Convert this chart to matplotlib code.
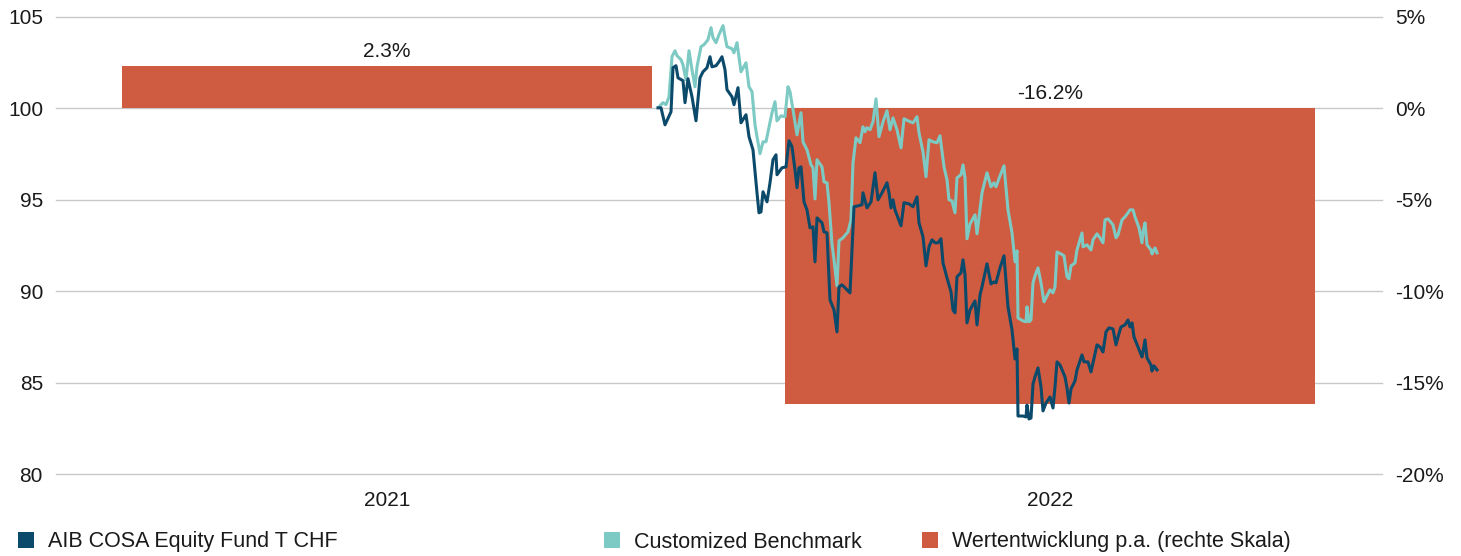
import matplotlib
matplotlib.use("Agg")
import matplotlib.pyplot as plt
from matplotlib.ticker import FuncFormatter, FixedLocator
from matplotlib.patches import Patch

plt.rcParams['font.family'] = ['Liberation Sans', 'DejaVu Sans']

# ---- data ----
years = ["2021", "2022"]
annual_perf = [2.3, -16.2]          # % p.a. (right scale)

# time positions (relative trading-time units) and index values
fund_t = [0, 3, 7, 13, 15, 18, 20, 25, 27, 30, 34, 38, 42, 45, 49, 52, 54, 58, 61, 64,
          67, 69, 74, 76, 80, 83, 88, 91, 95, 99, 101, 103, 105, 109, 112, 115, 118, 119, 124, 128,
          131, 134, 137, 139, 141, 143, 146, 149, 152, 155, 157, 159, 164, 166, 169, 172, 176, 179, 181, 184,
          187, 192, 196, 200, 204, 205, 209, 213, 217, 220, 224, 229, 231, 233, 235, 237, 243, 246, 251, 255,
          259, 261, 265, 268, 271, 274, 277, 280, 283, 285, 289, 293, 295, 297, 299, 303, 305, 307, 309, 312,
          317, 319, 322, 324, 329, 333, 336, 338, 342, 346, 350, 354, 357, 359, 360, 365, 368, 369, 371, 373,
          375, 377, 380, 383, 385, 388, 392, 395, 397, 399, 402, 407, 409, 411, 413, 417, 419, 424, 426, 430,
          433, 435, 439, 442, 445, 448, 451, 455, 458, 460, 463, 467, 470, 472, 474, 476, 480, 484, 485, 487,
          489, 493, 494, 496, 499]
fund = [100.02, 100.02, 99.09, 99.80, 102.21, 102.32, 101.66, 101.50, 100.30, 101.61,
        100.62, 99.31, 101.66, 101.99, 102.21, 102.81, 102.26, 102.32, 102.54, 102.81,
        102.10, 101.01, 100.62, 100.19, 101.12, 99.20, 99.64, 98.44, 97.72, 95.37,
        94.28, 94.33, 95.43, 94.88, 95.92, 97.18, 97.45, 96.36, 96.74, 96.79,
        98.22, 97.89, 96.63, 95.65, 96.74, 96.79, 94.88, 94.44, 93.46, 93.51,
        91.60, 94.00, 93.73, 93.24, 93.18, 89.52, 88.97, 87.77, 90.23, 90.34,
        90.18, 89.90, 94.61, 94.66, 94.72, 95.37, 94.55, 94.88, 96.47, 94.99,
        95.37, 95.92, 95.37, 94.55, 94.99, 94.44, 93.57, 94.83, 94.77, 94.61,
        95.15, 93.73, 92.97, 91.38, 92.42, 92.80, 92.64, 92.64, 92.86, 91.54,
        90.72, 89.96, 88.97, 88.81, 90.78, 91.00, 91.71, 90.89, 88.26, 88.97,
        89.46, 88.15, 89.79, 90.23, 91.49, 90.39, 90.50, 90.45, 91.27, 91.93,
        89.14, 87.88, 86.29, 86.84, 83.17, 83.17, 83.12, 83.77, 83.01, 83.06,
        84.92, 85.31, 85.80, 84.76, 83.45, 83.88, 84.21, 83.61, 84.76, 86.13,
        85.96, 85.31, 84.70, 83.88, 84.65, 85.09, 85.69, 86.51, 86.13, 86.13,
        85.58, 86.07, 87.06, 86.95, 86.67, 87.77, 87.99, 87.93, 87.06, 87.49,
        88.04, 88.15, 88.42, 88.04, 88.26, 87.49, 86.95, 86.40, 86.67, 87.33,
        86.35, 85.96, 85.63, 85.91, 85.69]

bench_t = [2, 5, 8, 11, 14, 17, 19, 23, 25, 28, 31, 34, 37, 39, 43, 46, 50, 53, 55, 58,
           61, 65, 67, 69, 74, 76, 79, 83, 88, 91, 94, 97, 99, 102, 105, 108, 114, 117, 119, 123,
           127, 130, 132, 135, 139, 143, 145, 149, 153, 155, 157, 159, 164, 166, 169, 171, 174, 176, 179, 181,
           185, 190, 193, 195, 198, 202, 205, 207, 209, 212, 215, 218, 221, 225, 229, 232, 235, 239, 243, 246,
           252, 255, 259, 261, 265, 268, 271, 275, 279, 282, 286, 289, 291, 294, 297, 299, 303, 305, 307, 309,
           312, 317, 319, 324, 329, 333, 336, 338, 342, 346, 350, 354, 357, 359, 360, 365, 368, 369, 371, 373,
           375, 377, 380, 383, 386, 389, 392, 395, 397, 399, 403, 406, 409, 411, 413, 417, 419, 424, 425, 429,
           433, 435, 439, 442, 445, 447, 450, 455, 458, 460, 464, 467, 470, 472, 475, 477, 481, 484, 485, 487,
           489, 493, 494, 497, 499]
bench = [100.13, 100.30, 100.19, 100.62, 102.81, 103.14, 102.87, 102.65, 102.37, 101.55,
         103.14, 102.10, 101.17, 102.26, 103.36, 103.47, 103.74, 104.40, 103.85, 103.58,
         104.02, 104.51, 103.91, 103.36, 103.25, 103.03, 103.58, 101.99, 102.48, 101.17,
         100.90, 99.09, 98.44, 97.51, 98.16, 98.16, 99.75, 100.35, 99.31, 99.58,
         99.53, 101.17, 100.90, 99.91, 98.54, 99.75, 98.16, 97.72, 96.90, 96.74,
         95.04, 97.18, 96.79, 95.97, 95.92, 94.83, 92.58, 91.71, 90.28, 92.75,
         92.91, 93.24, 93.89, 97.01, 98.38, 98.11, 98.98, 98.71, 98.93, 98.82,
         99.26, 100.51, 98.44, 99.26, 99.86, 98.82, 99.47, 98.82, 97.83, 99.42,
         99.26, 99.20, 99.53, 98.65, 97.61, 96.25, 98.27, 98.16, 98.11, 98.49,
         96.79, 96.08, 94.99, 94.93, 94.28, 96.19, 96.36, 96.90, 96.19, 92.86,
         93.67, 94.17, 93.13, 95.37, 96.47, 95.70, 95.92, 95.70, 96.30, 96.85,
         94.44, 93.18, 91.60, 92.20, 88.53, 88.37, 88.32, 89.14, 88.32, 88.42,
         90.45, 90.83, 91.27, 90.45, 89.41, 89.74, 90.07, 89.90, 90.23, 92.14,
         92.03, 91.93, 90.78, 90.67, 91.38, 91.54, 92.25, 93.18, 92.42, 92.53,
         92.25, 92.80, 93.13, 92.91, 92.64, 93.89, 93.95, 93.62, 92.91, 93.07,
         93.89, 94.06, 94.28, 94.44, 94.44, 94.06, 93.46, 92.64, 93.24, 93.73,
         92.53, 92.25, 92.03, 92.36, 92.09]

left_ticks = [80, 85, 90, 95, 100, 105]
right_ticks = [-20, -15, -10, -5, 0, 5]

series_names = ["AIB COSA Equity Fund T CHF", "Customized Benchmark",
                "Wertentwicklung p.a. (rechte Skala)"]
c_fund = "#0b4a6b"
c_bench = "#7ccac3"
c_bar = "#cf5b40"
c_grid = "#c8c8c8"
c_text = "#1a1a1a"

# ---- figure ----
W, H = 1461, 556
fig = plt.figure(figsize=(W / 100, H / 100), dpi=100)
L, R, T, B = 55.5, 1381.5, 16.7, 474
ax = fig.add_axes([L / W, 1 - B / H, (R - L) / W, (B - T) / H])

ax.set_ylim(80, 105)
ax.set_xlim(-0.5, 1.5)
ax.yaxis.set_major_locator(FixedLocator(left_ticks))
ax.grid(axis='y', color=c_grid, linewidth=1.0)
for gl in ax.get_ygridlines():
    gl.set_clip_on(False)
ax.set_axisbelow(True)
for s in ax.spines.values():
    s.set_visible(False)
ax.set_xticks(range(len(years)))
ax.set_xticklabels(years)
ax.tick_params(axis='both', length=0, labelsize=15, colors=c_text)
ax.tick_params(axis='y', pad=9)
ax.tick_params(axis='x', pad=12)

# right axis: annual performance bars
axr = ax.twinx()
axr.set_ylim(-20, 5)
axr.yaxis.set_major_locator(FixedLocator(right_ticks))
axr.yaxis.set_major_formatter(FuncFormatter(lambda v, p: f"{v:.0f}%"))
axr.tick_params(axis='y', length=0, labelsize=15, colors=c_text, pad=10)
for s in axr.spines.values():
    s.set_visible(False)
axr.bar(range(len(years)), annual_perf, width=0.8, color=c_bar, zorder=1)
for i, v in enumerate(annual_perf):
    axr.annotate(f"{v:.1f}%", xy=(i, max(v, 0)), xytext=(0, 4),
                 textcoords='offset points', ha='center', va='bottom',
                 fontsize=15, color=c_text)

# line axis (own time scale, sharing the left value scale)
axl = ax.twiny()
axl.set_xlim(L - 658, R - 658)
axl.set_ylim(80, 105)
axl.axis('off')
axl.plot(bench_t, bench, color=c_bench, linewidth=2.2, zorder=3)
axl.plot(fund_t, fund, color=c_fund, linewidth=2.2, zorder=4)

ax.set_zorder(1)
axr.set_zorder(2)
axl.set_zorder(3)
axr.patch.set_visible(False)
axl.patch.set_visible(False)

# legend: three entries placed along the bottom
colors = [c_fund, c_bench, c_bar]
leg_x = [18, 604, 922]
for name, col, lx in zip(series_names, colors, leg_x):
    fig.legend([Patch(facecolor=col)], [name], loc='center left',
               bbox_to_anchor=(lx / W, 1 - 542 / H), frameon=False,
               fontsize=15.5, handlelength=0.75, handleheight=0.75,
               handletextpad=0.65, borderpad=0, borderaxespad=0,
               labelcolor=c_text)

fig.savefig("out.png", dpi=100)
